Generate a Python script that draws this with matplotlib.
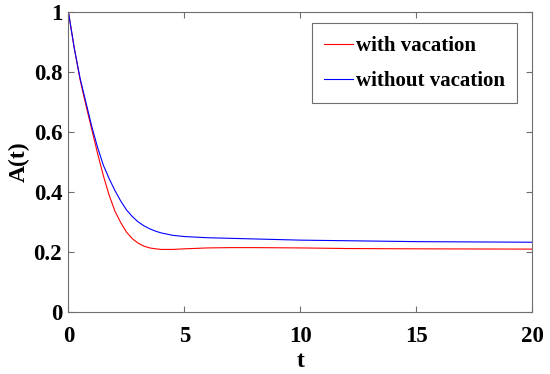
import matplotlib
matplotlib.use("Agg")
import matplotlib.pyplot as plt

# Values
t = [0, 0.25, 0.5, 0.75, 1.0, 1.25, 1.5, 1.75, 2.0, 2.25, 2.5, 2.75, 3.0,
     3.25, 3.5, 3.75, 4.0, 4.5, 5, 6, 7, 8, 10, 12, 15, 20]
with_vacation = [1.0, 0.88, 0.775, 0.69, 0.61, 0.53, 0.455, 0.39, 0.336,
                 0.298, 0.266, 0.244, 0.229, 0.219, 0.213, 0.210, 0.208,
                 0.208, 0.21, 0.213, 0.214, 0.214, 0.213, 0.211, 0.21, 0.209]
without_vacation = [1.0, 0.88, 0.78, 0.70, 0.62, 0.55, 0.49, 0.445, 0.405,
                    0.370, 0.340, 0.318, 0.300, 0.287, 0.277, 0.269, 0.263,
                    0.255, 0.251, 0.247, 0.245, 0.243, 0.239, 0.237, 0.234,
                    0.232]
labels = ["with vacation", "without vacation"]
xticks = [0, 5, 10, 15, 20]
yticks = [0, 0.2, 0.4, 0.6, 0.8, 1]

plt.rcParams["font.family"] = ["Liberation Serif", "DejaVu Serif"]
plt.rcParams["font.weight"] = "bold"

fig = plt.figure(figsize=(5.5, 3.74), dpi=100)
ax = fig.add_axes([0.1245, 0.1666, 0.8436, 0.8005])

ax.plot(t, with_vacation, color="red", lw=0.8, label=labels[0])
ax.plot(t, without_vacation, color="blue", lw=0.8, label=labels[1])

ax.set_xlim(0, 20)
ax.set_ylim(0, 1)
ax.set_xticks(xticks)
ax.set_yticks(yticks)
ax.set_xticklabels([f"{v:g}" for v in xticks])
ax.set_yticklabels([f"{v:g}" for v in yticks])

grey = "#6e6e6e"
for s in ax.spines.values():
    s.set_color(grey)
    s.set_linewidth(0.8)
ax.tick_params(direction="in", top=True, right=True, length=4, width=0.8,
               color=grey, labelsize=16.5, labelcolor="black")
ax.tick_params(axis="x", pad=10)
ax.tick_params(axis="y", pad=4.5)

ax.set_xlabel("t", fontsize=17, fontweight="bold", labelpad=3)
ax.set_ylabel("A(t)", fontsize=17, fontweight="bold", labelpad=3)

leg = ax.legend(loc="upper right", bbox_to_anchor=(0.967, 0.963),
                borderaxespad=0, labelspacing=0.72,
                handlelength=1.35, handletextpad=0.15, borderpad=0.6,
                fancybox=False, framealpha=1, prop={"weight": "bold", "size": 15})
leg.get_frame().set_edgecolor(grey)
leg.get_frame().set_linewidth(0.8)

fig.savefig("out.png", dpi=100)
